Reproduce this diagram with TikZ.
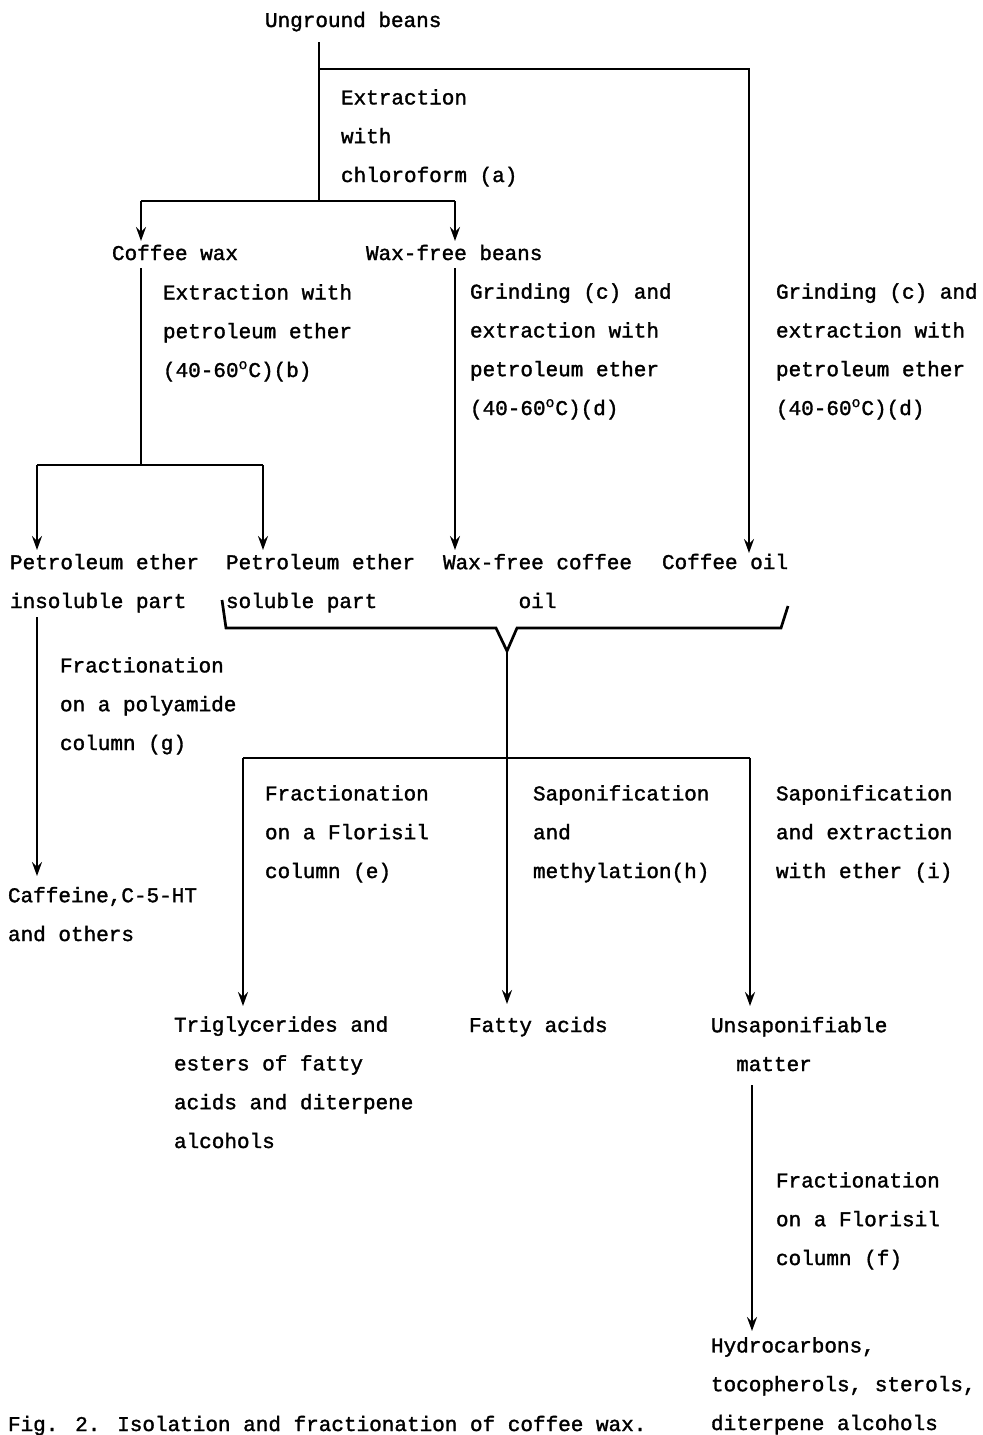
\documentclass[tikz,border=0pt]{standalone}
\usepackage{fontspec}
\newfontfamily\monofam{Liberation Mono}[FakeBold=1.5]
\usetikzlibrary{arrows.meta}
\tikzset{
  txt/.style={inner sep=0pt, outer sep=0pt, anchor=base west, align=left, font=\monofam\fontsize{10.5}{19.4}\selectfont},
  ln/.style={line width=1.35pt},
  arr/.style={ln, -{Stealth[length=7pt,width=5pt,inset=2.5pt]}}
}
\begin{document}
\begin{tikzpicture}[x=0.5pt,y=-0.5pt]
\useasboundingbox (0,0) rectangle (983,1435);
% texts (anchor = baseline of the last line)
\node[txt] (ub) at (265,27) {Unground beans};
\node[txt] (l_a) at (341,182) {Extraction\\with\\chloroform (a)};
\node[txt] (cw) at (112,260) {Coffee wax};
\node[txt] (wfb) at (366,260) {Wax-free beans};
\node[txt] (l_b) at (163,377) {Extraction with\\petroleum ether\\(40-60\textsuperscript{o}C)(b)};
\node[txt] (l_d1) at (470,415) {Grinding (c) and\\extraction with\\petroleum ether\\(40-60\textsuperscript{o}C)(d)};
\node[txt] (l_d2) at (776,415) {Grinding (c) and\\extraction with\\petroleum ether\\(40-60\textsuperscript{o}C)(d)};
\node[txt] (pei) at (10,608) {Petroleum ether\\insoluble part};
\node[txt] (pes) at (226,608) {Petroleum ether\\soluble part};
\node[txt, align=center] (wfo) at (443,608) {Wax-free coffee\\oil};
\node[txt] (co) at (662,569) {Coffee oil};
\node[txt] (l_g) at (60,750) {Fractionation\\on a polyamide\\column (g)};
\node[txt] (caf) at (8,941) {Caffeine,C-5-HT\\and others};
\node[txt] (l_e) at (265,878) {Fractionation\\on a Florisil\\column (e)};
\node[txt] (l_h) at (533,878) {Saponification\\and\\methylation(h)};
\node[txt] (l_i) at (776,878) {Saponification\\and extraction\\with ether (i)};
\node[txt] (tri) at (174,1148) {Triglycerides and\\esters of fatty\\acids and diterpene\\alcohols};
\node[txt] (fa) at (469,1032) {Fatty acids};
\node[txt] (uns) at (711,1071) {Unsaponifiable\\\phantom{Un}matter};
\node[txt] (l_f) at (776,1265) {Fractionation\\on a Florisil\\column (f)};
\node[txt] (hyd) at (711,1430) {Hydrocarbons,\\tocopherols, sterols,\\diterpene alcohols};
\node[txt] (cap) at (8,1431) {Fig. 2. Isolation and fractionation of coffee wax.};
% junction coordinates
\coordinate (s0) at (319,42);
\coordinate (j0) at (319,69);
\coordinate (j0r) at (749,69);
\coordinate (j1) at (319,201);
\coordinate (j1l) at (141,201);
\coordinate (j1r) at (455,201);
\coordinate (tcw) at (141,241);
\coordinate (twfb) at (455,241);
\coordinate (s2) at (141,268);
\coordinate (j2) at (141,465);
\coordinate (j2l) at (37,465);
\coordinate (j2r) at (263,465);
\coordinate (tpei) at (37,550);
\coordinate (tpes) at (263,550);
\coordinate (s3) at (455,268);
\coordinate (twfo) at (455,550);
\coordinate (tco) at (749,553);
% brace
\coordinate (bl) at (222,600);
\coordinate (br) at (788,606);
\coordinate (bp) at (507,651);
\coordinate (j4) at (507,758);
\coordinate (j4l) at (243,758);
\coordinate (j4r) at (750,758);
\coordinate (ttri) at (243,1006);
\coordinate (tfa) at (507,1004);
\coordinate (tuns) at (750,1006);
\coordinate (s5) at (37,617);
\coordinate (tcaf) at (37,876);
\coordinate (s6) at (752,1085);
\coordinate (thyd) at (752,1331);
% connectors
\draw[ln] (s0) -- (j1);
\draw[arr] (j0) -- (j0r) -- (tco);
\draw[ln] (j1l) -- (j1r);
\draw[arr] (j1l) -- (tcw);
\draw[arr] (j1r) -- (twfb);
\draw[ln] (s2) -- (j2);
\draw[ln] (j2l) -- (j2r);
\draw[arr] (j2l) -- (tpei);
\draw[arr] (j2r) -- (tpes);
\draw[arr] (s3) -- (twfo);
\draw[ln, line join=miter] (bl) -- (226,628) -- (496,628) -- (bp) -- (517,628) -- (781,628) -- (br);
\draw[ln] (bp) -- (j4);
\draw[ln] (j4l) -- (j4r);
\draw[arr] (j4l) -- (ttri);
\draw[arr] (j4) -- (tfa);
\draw[arr] (j4r) -- (tuns);
\draw[arr] (s5) -- (tcaf);
\draw[arr] (s6) -- (thyd);
\end{tikzpicture}
\end{document}
